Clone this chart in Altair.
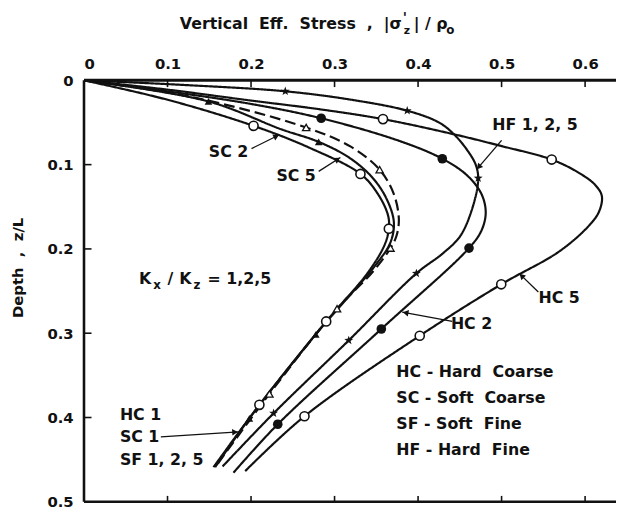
import math
import altair as alt
import pandas as pd

# ---------------- data (stress |sigma'_z|/p0 , depth z/L) ----------------
hf_stress = [0, 0.12, 0.241, 0.32, 0.387, 0.425, 0.443, 0.459, 0.469, 0.472, 0.467, 0.451, 0.430, 0.398, 0.317, 0.227, 0.166]
hf_depth = [0, 0.0055, 0.013, 0.023, 0.036, 0.050, 0.064, 0.083, 0.100, 0.116, 0.145, 0.184, 0.205, 0.229, 0.3085, 0.395, 0.458]

hc5_stress = [0, 0.10, 0.20, 0.28, 0.358, 0.443, 0.50, 0.560, 0.593, 0.612, 0.620, 0.617, 0.605, 0.569, 0.4996, 0.402, 0.264, 0.193]
hc5_depth = [0, 0.011, 0.024, 0.034, 0.046, 0.064, 0.078, 0.094, 0.110, 0.124, 0.137, 0.155, 0.172, 0.203, 0.242, 0.303, 0.3985, 0.4636]

hc2_stress = [0, 0.10, 0.20, 0.284, 0.378, 0.429, 0.459, 0.476, 0.481, 0.476, 0.461, 0.356, 0.232, 0.179]
hc2_depth = [0, 0.013, 0.028, 0.045, 0.072, 0.093, 0.113, 0.135, 0.157, 0.178, 0.199, 0.295, 0.408, 0.4655]

sc5_stress = [0, 0.13, 0.266, 0.32, 0.354, 0.371, 0.377, 0.374, 0.367, 0.345, 0.303, 0.222, 0.160]
sc5_depth = [0, 0.020, 0.056, 0.079, 0.106, 0.135, 0.165, 0.185, 0.199, 0.228, 0.271, 0.372, 0.455]

sc2_stress = [0, 0.149, 0.236, 0.281, 0.318, 0.345, 0.362, 0.371, 0.367, 0.350, 0.2775, 0.198, 0.157]
sc2_depth = [0, 0.025, 0.058, 0.073, 0.092, 0.115, 0.140, 0.168, 0.192, 0.218, 0.3015, 0.401, 0.459]

hc1_stress = [0, 0.10, 0.203, 0.27, 0.331, 0.352, 0.364, 0.365, 0.360, 0.340, 0.290, 0.210, 0.155]
hc1_depth = [0, 0.023, 0.054, 0.080, 0.111, 0.135, 0.160, 0.176, 0.195, 0.228, 0.286, 0.385, 0.459]

# plotted symbols
hf_sym_x = [0.241, 0.387, 0.472, 0.398, 0.317, 0.227]
hf_sym_y = [0.013, 0.036, 0.116, 0.229, 0.3085, 0.395]
hc5_sym_x = [0.358, 0.560, 0.4996, 0.402, 0.264]
hc5_sym_y = [0.046, 0.094, 0.242, 0.303, 0.3985]
hc2_sym_x = [0.284, 0.429, 0.461, 0.356, 0.232]
hc2_sym_y = [0.045, 0.093, 0.199, 0.295, 0.408]
hc1_sym_x = [0.203, 0.331, 0.365, 0.290, 0.210]
hc1_sym_y = [0.054, 0.111, 0.176, 0.286, 0.385]
sc5_sym_x = [0.266, 0.354, 0.367, 0.303, 0.222]
sc5_sym_y = [0.056, 0.106, 0.199, 0.271, 0.372]
sc2_sym_x = [0.149, 0.281, 0.2775, 0.198]
sc2_sym_y = [0.025, 0.073, 0.3015, 0.401]

x_ticks = [0, 0.1, 0.2, 0.3, 0.4, 0.5, 0.6]
y_ticks = [0, 0.1, 0.2, 0.3, 0.4, 0.5]

# ---------------- layout / style ----------------
X_MAX, Y_MAX = 0.637, 0.5
W, H = 539, 427
FONT = "DejaVu Sans, sans-serif"
INK = "#111111"
NB = "\u00a0"

xs = alt.Scale(domain=[0, X_MAX], nice=False, zero=False)
ys = alt.Scale(domain=[0, Y_MAX], reverse=True, nice=False, zero=False)

rows = []
for name, sx, sy, dash in [
    ("HF", hf_stress, hf_depth, "solid"),
    ("HC5", hc5_stress, hc5_depth, "solid"),
    ("HC2", hc2_stress, hc2_depth, "solid"),
    ("SC5", sc5_stress, sc5_depth, "dashed"),
    ("SC2", sc2_stress, sc2_depth, "solid"),
    ("HC1", hc1_stress, hc1_depth, "solid"),
]:
    for i, (a, b) in enumerate(zip(sx, sy)):
        rows.append({"series": name, "seq": i, "x": a, "y": b, "dash": dash})
curves = pd.DataFrame(rows)

lines = alt.Chart(curves).mark_line(interpolate="catmull-rom", strokeWidth=2.2, color=INK).encode(
    x=alt.X("x:Q", scale=xs, axis=alt.Axis(orient="top", values=x_ticks, format=".1~f", domain=False,
                                           ticks=False, grid=False, labelFont=FONT, labelFontSize=15,
                                           labelFontWeight="bold", labelColor=INK, labelPadding=9, title=None)),
    y=alt.Y("y:Q", scale=ys, axis=alt.Axis(values=y_ticks, format=".1~f", domain=False, ticks=False, grid=False,
                                           labelFont=FONT, labelFontSize=15, labelFontWeight="bold",
                                           labelColor=INK, labelPadding=11, title=None)),
    detail="series:N",
    order="seq:Q",
    strokeDash=alt.StrokeDash("dash:N", scale=alt.Scale(domain=["solid", "dashed"], range=[[1, 0], [11, 5]]),
                              legend=None),
)


def sym_layer(sx, sy, shape, filled, size, sw=1.6):
    df = pd.DataFrame({"x": sx, "y": sy})
    if filled:
        m = alt.Chart(df).mark_point(shape=shape, filled=True, size=size, color=INK, opacity=1)
    else:
        m = alt.Chart(df).mark_point(shape=shape, filled=True, fill="white", stroke=INK, strokeWidth=sw,
                                     size=size, opacity=1)
    return m.encode(x=alt.X("x:Q", scale=xs), y=alt.Y("y:Q", scale=ys))


STAR = "M0,-1L0.24,-0.33L0.95,-0.31L0.38,0.12L0.59,0.81L0,0.4L-0.59,0.81L-0.38,0.12L-0.95,-0.31L-0.24,-0.33Z"

symbols = [
    sym_layer(hf_sym_x, hf_sym_y, STAR, True, 90),
    sym_layer(hc5_sym_x, hc5_sym_y, "circle", False, 85),
    sym_layer(hc2_sym_x, hc2_sym_y, "circle", True, 95),
    sym_layer(hc1_sym_x, hc1_sym_y, "circle", False, 85),
    sym_layer(sc5_sym_x, sc5_sym_y, "triangle-up", False, 55, 1.3),
    sym_layer(sc2_sym_x, sc2_sym_y, "triangle-up", True, 60),
]

# frame: top, left, bottom lines and inward ticks
frame = pd.DataFrame([
    {"x": 0, "x2": X_MAX, "y": 0, "y2": 0, "w": 3.0},
    {"x": 0, "x2": 0, "y": 0, "y2": Y_MAX, "w": 2.6},
    {"x": 0, "x2": X_MAX, "y": Y_MAX, "y2": Y_MAX, "w": 2.6},
])
frame_rules = alt.Chart(frame).mark_rule(color=INK).encode(
    x=alt.X("x:Q", scale=xs), x2="x2:Q", y=alt.Y("y:Q", scale=ys), y2="y2:Q",
    strokeWidth=alt.StrokeWidth("w:Q", scale=None))

tick_rows = []
for v in x_ticks[1:]:
    tick_rows.append({"x": v, "x2": v, "y": 0, "y2": 0.008})
    tick_rows.append({"x": v, "x2": v, "y": Y_MAX, "y2": Y_MAX - 0.007})
for v in y_ticks[1:-1]:
    tick_rows.append({"x": 0, "x2": 0.009, "y": v, "y2": v})
tick_rules = alt.Chart(pd.DataFrame(tick_rows)).mark_rule(color=INK, strokeWidth=1.6).encode(
    x=alt.X("x:Q", scale=xs), x2="x2:Q", y=alt.Y("y:Q", scale=ys), y2="y2:Q")

# annotation arrows (tail -> head)
arrows = [
    (0.2006, 0.081, 0.234, 0.0645),   # SC2
    (0.281, 0.108, 0.307, 0.0915),    # SC5
    (0.500, 0.0713, 0.470, 0.106),    # HF1,2,5
    (0.544, 0.251, 0.521, 0.229),     # HC5
    (0.441, 0.286, 0.381, 0.275),     # HC2
    (0.092, 0.423, 0.185, 0.417),     # HC1 / SC1 / SF
]
arr_df = pd.DataFrame([{"x": a, "y": b, "x2": c, "y2": d} for a, b, c, d in arrows])
arrow_lines = alt.Chart(arr_df).mark_rule(color=INK, strokeWidth=1.3).encode(
    x=alt.X("x:Q", scale=xs), x2="x2:Q", y=alt.Y("y:Q", scale=ys), y2="y2:Q")

head_rows = []
for a, b, c, d in arrows:
    dx = (c - a) * W / X_MAX
    dy = (d - b) * H / Y_MAX
    ang = math.degrees(math.atan2(dx, -dy)) % 360
    L = math.hypot(dx, dy)
    back = 3.5
    head_rows.append({"x": c - (c - a) * back / L, "y": d - (d - b) * back / L, "ang": ang})
heads = alt.Chart(pd.DataFrame(head_rows)).mark_point(shape="triangle-up", filled=True, color=INK, size=45,
                                                     opacity=1).encode(
    x=alt.X("x:Q", scale=xs), y=alt.Y("y:Q", scale=ys), angle=alt.Angle("ang:Q", scale=None))

# text labels in data coordinates
labels = pd.DataFrame([
    {"x": 0.173, "y": 0.0845, "t": "SC" + NB + "2", "a": "center", "s": 16},
    {"x": 0.254, "y": 0.113, "t": "SC" + NB + "5", "a": "center", "s": 16},
    {"x": 0.540, "y": 0.053, "t": "HF" + NB + "1," + NB + "2," + NB + "5", "a": "center", "s": 16},
    {"x": 0.569, "y": 0.258, "t": "HC" + NB + "5", "a": "center", "s": 16},
    {"x": 0.464, "y": 0.289, "t": "HC" + NB + "2", "a": "center", "s": 16},
    {"x": 0.043, "y": 0.397, "t": "HC" + NB + "1", "a": "left", "s": 16},
    {"x": 0.043, "y": 0.4235, "t": "SC" + NB + "1", "a": "left", "s": 16},
    {"x": 0.043, "y": 0.450, "t": "SF" + NB + "1," + NB + "2," + NB + "5", "a": "left", "s": 16},
    {"x": 0.374, "y": 0.3465, "t": "HC" + NB + "-" + NB + "Hard" + NB * 2 + "Coarse", "a": "left", "s": 16},
    {"x": 0.374, "y": 0.3775, "t": "SC" + NB + "-" + NB + "Soft" + NB * 2 + "Coarse", "a": "left", "s": 16},
    {"x": 0.374, "y": 0.408, "t": "SF" + NB + "-" + NB + "Soft" + NB * 2 + "Fine", "a": "left", "s": 16},
    {"x": 0.374, "y": 0.439, "t": "HF" + NB + "-" + NB + "Hard" + NB * 2 + "Fine", "a": "left", "s": 16},
])


def text_layer(df, align):
    return alt.Chart(df[df["a"] == align]).mark_text(
        font=FONT, fontWeight="bold", color=INK, align=align, baseline="middle").encode(
        x=alt.X("x:Q", scale=xs), y=alt.Y("y:Q", scale=ys), text="t:N", size=alt.Size("s:Q", scale=None))


text_c = text_layer(labels, "center")
text_l = text_layer(labels, "left")

# K_x / K_z = 1,2,5
kk = pd.DataFrame([
    {"x": 0.066, "y": 0.236, "t": "K", "s": 16},
    {"x": 0.083, "y": 0.243, "t": "x", "s": 12},
    {"x": 0.100, "y": 0.236, "t": "/", "s": 16},
    {"x": 0.114, "y": 0.236, "t": "K", "s": 16},
    {"x": 0.131, "y": 0.243, "t": "z", "s": 12},
    {"x": 0.148, "y": 0.236, "t": "=" + NB + "1,2,5", "s": 16},
])
kk_text = alt.Chart(kk).mark_text(font=FONT, fontWeight="bold", color=INK, align="left",
                                  baseline="middle").encode(
    x=alt.X("x:Q", scale=xs), y=alt.Y("y:Q", scale=ys), text="t:N",
    size=alt.Size("s:Q", scale=None))

# axis titles (pixel positions relative to the plot area)
title_parts = pd.DataFrame([
    {"px": 322, "py": -57, "t": "Vertical" + NB * 2 + "Eff." + NB * 2 + "Stress" + NB * 2 + "," + NB * 2 + "|σ",
     "s": 16, "a": "right"},
    {"px": 323, "py": -63, "t": "'", "s": 14, "a": "left"},
    {"px": 324, "py": -50, "t": "z", "s": 11, "a": "left"},
    {"px": 334, "py": -57, "t": "|" + NB + "/" + NB + "ρ", "s": 16, "a": "left"},
    {"px": 367, "py": -51, "t": "o", "s": 12, "a": "left"},
])


def title_layer(align):
    return alt.Chart(title_parts[title_parts["a"] == align]).mark_text(
        font=FONT, fontWeight="bold", color=INK, align=align, baseline="middle").encode(
        x=alt.X("px:Q", scale=None), y=alt.Y("py:Q", scale=None), text="t:N", size=alt.Size("s:Q", scale=None))


ytitle = alt.Chart(pd.DataFrame({"t": ["Depth" + NB * 2 + "," + NB * 2 + "z/L"]})).mark_text(
    font=FONT, fontSize=15, fontWeight="bold", color=INK, angle=270, align="center", baseline="middle").encode(
    x=alt.value(-67), y=alt.value(190), text="t:N")

chart = alt.layer(
    lines, *symbols, frame_rules, tick_rules, arrow_lines, heads, text_c, text_l, kk_text,
    title_layer("right"), title_layer("left"), ytitle
).properties(
    width=W, height=H, padding={"left": 77, "top": 70, "right": 0, "bottom": 4}, autosize="none",
    background="white"
).configure_view(stroke=None)

chart.save("out.html", embed_options={"renderer": "svg", "actions": False})
